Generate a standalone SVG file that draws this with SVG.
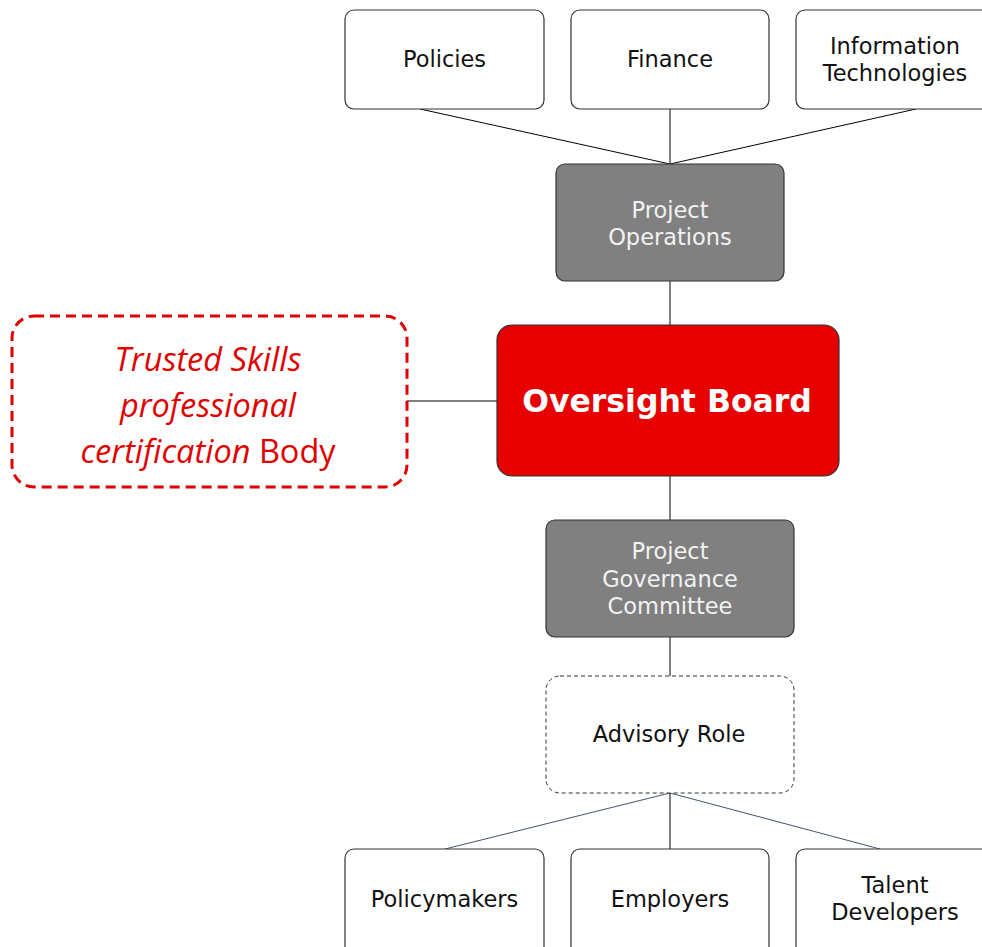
<svg xmlns="http://www.w3.org/2000/svg" width="982" height="947" viewBox="0 0 982 947">
<style>
.box{fill:#fff;stroke:#333;stroke-width:1.2}
.gray{fill:#808080;stroke:#333;stroke-width:1.2}
.t{font-family:"DejaVu Sans",Verdana,sans-serif;font-size:22.5px;text-anchor:middle;fill:#111}
.tw{font-family:"DejaVu Sans",Verdana,sans-serif;font-size:22.5px;text-anchor:middle;fill:#f2f2f2}
.c{stroke:#000;stroke-width:1;fill:none}
.cb{stroke:#44546a;stroke-width:1;fill:none}
</style>
<rect width="982" height="947" fill="#fff"/>
<g id="connectors">
<line class="c" x1="420" y1="109" x2="670" y2="164"/>
<line class="c" x1="670" y1="109" x2="670" y2="164"/>
<line class="c" x1="916" y1="109" x2="670" y2="164"/>
<line class="c" x1="670" y1="281" x2="670" y2="325"/>
<line class="c" x1="407" y1="401" x2="497" y2="401"/>
<line class="c" x1="670" y1="476" x2="670" y2="520"/>
<line class="c" x1="670" y1="637" x2="670" y2="676"/>
<line class="cb" x1="670" y1="793" x2="445" y2="849"/>
<line class="c" x1="670" y1="793" x2="670" y2="849"/>
<line class="cb" x1="670" y1="793" x2="880" y2="849"/>
</g>
<g id="policies"><rect class="box" x="345" y="10" width="199" height="99" rx="9"/><text class="t" x="444.5" y="67">Policies</text></g>
<g id="finance"><rect class="box" x="571" y="10" width="198" height="99" rx="9"/><text class="t" x="670" y="67">Finance</text></g>
<g id="it"><rect class="box" x="796" y="10" width="199" height="99" rx="9"/><text class="t" x="895" y="54">Information</text><text class="t" x="895" y="81">Technologies</text></g>
<g id="operations"><rect class="gray" x="556" y="164" width="228" height="117" rx="9"/><text class="tw" x="670" y="218">Project</text><text class="tw" x="670" y="245">Operations</text></g>
<g id="trusted"><rect x="12" y="316" width="395" height="171" rx="22" fill="#fff" stroke="#e00000" stroke-width="3" stroke-dasharray="10,6"/>
<text font-family="'Open Sans','Noto Sans',sans-serif" font-size="32.5" fill="#e00000" text-anchor="middle"><tspan x="208" y="371" font-style="italic">Trusted Skills</tspan><tspan x="208" y="417" font-style="italic">professional</tspan><tspan x="208" y="463"><tspan font-style="italic">certification</tspan> Body</tspan></text></g>
<g id="oversight"><rect x="497" y="325" width="342" height="151" rx="15" fill="#e60000" stroke="#333" stroke-width="1.2"/><text x="667" y="412" font-family="'DejaVu Sans',Verdana,sans-serif" font-weight="bold" font-size="31.5" fill="#fff" text-anchor="middle">Oversight Board</text></g>
<g id="governance"><rect class="gray" x="546" y="520" width="248" height="117" rx="9"/><text class="tw" x="670" y="559">Project</text><text class="tw" x="670" y="587">Governance</text><text class="tw" x="670" y="614">Committee</text></g>
<g id="advisory"><rect x="546" y="676" width="248" height="117" rx="14" fill="#fff" stroke="#333" stroke-width="1" stroke-dasharray="4,3"/><text class="t" x="669" y="742">Advisory Role</text></g>
<g id="policymakers"><rect class="box" x="345" y="849" width="199" height="110" rx="9"/><text class="t" x="444.5" y="907">Policymakers</text></g>
<g id="employers"><rect class="box" x="571" y="849" width="198" height="110" rx="9"/><text class="t" x="670" y="907">Employers</text></g>
<g id="talent"><rect class="box" x="796" y="849" width="199" height="110" rx="9"/><text class="t" x="895" y="893">Talent</text><text class="t" x="895" y="920">Developers</text></g>
</svg>
